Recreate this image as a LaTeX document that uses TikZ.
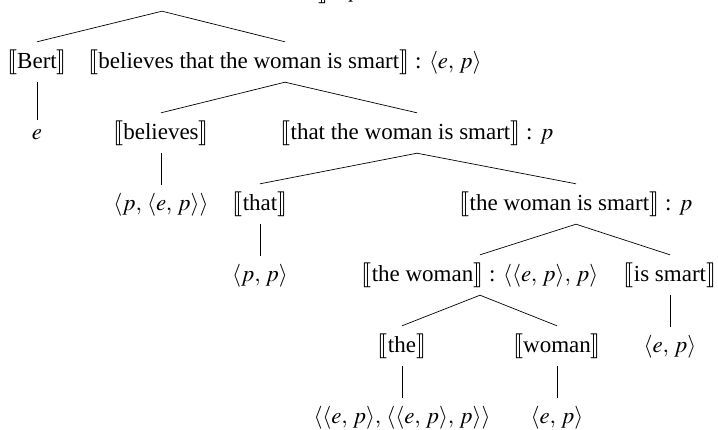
\documentclass[tikz,border=0pt]{standalone}
\usepackage{mathptmx}
\usepackage{stmaryrd}
\usepackage[no-math]{fontspec}
\setmainfont{Liberation Serif}
\newcommand\den[1]{$\llbracket$#1$\rrbracket$}
\newcommand\cma{,\,}
\begin{document}
\begin{tikzpicture}[x=1pt,y=-1pt,
  lab/.style={inner sep=0pt, anchor=base, text height=26pt, text depth=14pt, font=\fontsize{23}{27}\selectfont},
  lf/.style={lab, text height=25pt},
  sh/.style={lab, text height=19pt},
  edge/.style={line width=0.7pt}]
\useasboundingbox (0,0) rectangle (718,429);
\node[lab] (root) at (162,-3) {\den{Bert believes that the woman is smart} : $p$};
% level 1
\node[lab] (bert) at (37,68) {\den{Bert}};
\node[lab] (btws) at (285,68) {\den{believes that the woman is smart} : $\langle e\cma p\rangle$};
% level 2
\node[sh] (e) at (37,139) {$e$};
\node[lab] (bel) at (161,139) {\den{believes}};
\node[lab] (ttws) at (417,139) {\den{that the woman is smart} : $p$};
% level 3
\node[lf] (t1) at (161,210) {$\langle p\cma \langle e\cma p\rangle\rangle$};
\node[lab] (that) at (260,210) {\den{that}};
\node[lab] (tws) at (576,210) {\den{the woman is smart} : $p$};
% level 4
\node[lf] (t2) at (260,281) {$\langle p\cma p\rangle$};
\node[lab] (tw) at (480,281) {\den{the woman} : $\langle\langle e\cma p\rangle\cma p\rangle$};
\node[lab] (iss) at (670,281) {\den{is smart}};
% level 5
\node[lab] (the) at (402,352) {\den{the}};
\node[lab] (wom) at (557,352) {\den{woman}};
\node[lf] (t3) at (670,352) {$\langle e\cma p\rangle$};
% level 6
\node[lf] (t4) at (402,423) {$\langle\langle e\cma p\rangle\cma \langle\langle e\cma p\rangle\cma p\rangle\rangle$};
\node[lf] (t5) at (557,423) {$\langle e\cma p\rangle$};
% edges
\draw[edge] (bert.north) -- (root.south) -- (btws.north);
\draw[edge] (bert.south) -- (e.north);
\draw[edge] (bel.north) -- (btws.south) -- (ttws.north);
\draw[edge] (bel.south) -- (t1.north);
\draw[edge] (that.north) -- (ttws.south) -- (tws.north);
\draw[edge] (that.south) -- (t2.north);
\draw[edge] (tw.north) -- (tws.south) -- (iss.north);
\draw[edge] (the.north) -- (tw.south) -- (wom.north);
\draw[edge] (iss.south) -- (t3.north);
\draw[edge] (the.south) -- (t4.north);
\draw[edge] (wom.south) -- (t5.north);
\end{tikzpicture}
\end{document}
